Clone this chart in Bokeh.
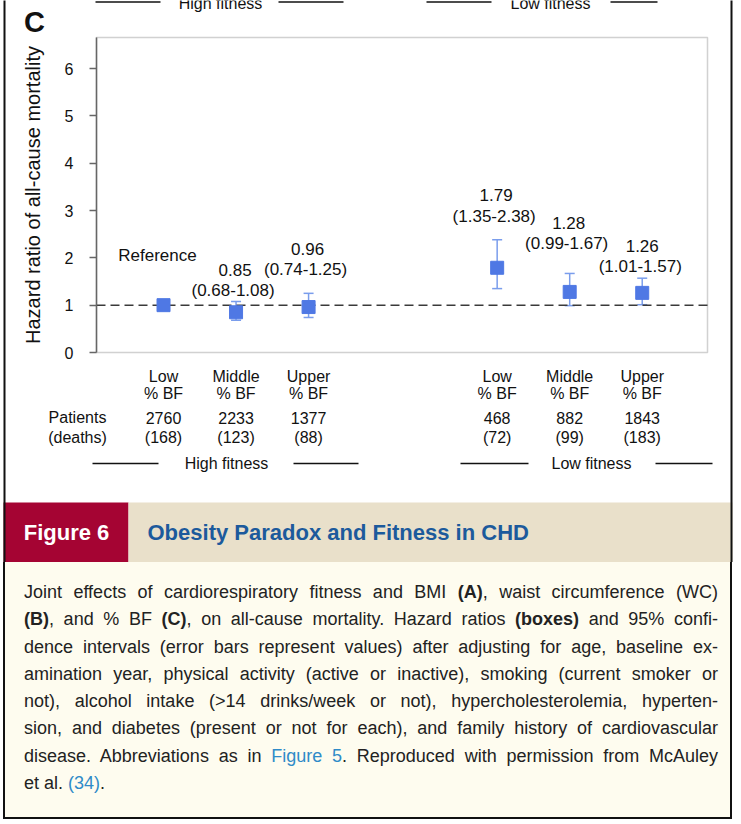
from bokeh.plotting import figure
from bokeh.models import (ColumnDataSource, Whisker, TeeHead, Label, Arrow,
                          BoxAnnotation, FixedTicker, Div)
from bokeh.layouts import column
from bokeh.embed import file_html
from bokeh.resources import INLINE

# ---------------- data ----------------
groups = ["High fitness", "Low fitness"]
bf_levels = ["Low", "Middle", "Upper"]
x_pos = [1.0, 2.0, 3.0, 5.6, 6.6, 7.6]
hazard_ratio = [1.00, 0.85, 0.96, 1.79, 1.28, 1.26]
ci_lower = [None, 0.68, 0.74, 1.35, 0.99, 1.01]
ci_upper = [None, 1.08, 1.25, 2.38, 1.67, 1.57]
patients = [2760, 2233, 1377, 468, 882, 1843]
deaths = [168, 123, 88, 72, 99, 183]
y_ticks = [0, 1, 2, 3, 4, 5, 6]
reference_value = 1.0
y_axis_title = "Hazard ratio of all-cause mortality"
panel_letter = "C"
fig_number = "Figure 6"
fig_title = "Obesity Paradox and Fitness in CHD"

# ---------------- layout (positions / styles) ----------------
W, H = 741, 562
FONT = "Liberation Sans"
TXT = "#111111"
BLUE = "#4F78E4"
BAR = "#7A9DEC"
X0, X1 = 0.076, 8.5          # plot-box x extent (data)
Y0, Y1 = 0.0, 6.655          # plot-box y extent (data)
PL, PR, PT, PB = 96, 707, 37, 352   # plot-box edges in canvas pixels


def fx(px):
    return X0 + (px - PL) * (X1 - X0) / (PR - PL)


def fy(py):
    return Y0 + (PB - py) * (Y1 - Y0) / (PB - PT)


value_label_y = [2.05, 1.75, 2.19, 3.32, 2.73, 2.26]
value_label_dx = [-6, -1, -1, -1, -1, 0]

p = figure(width=W, height=H, x_range=(fx(0), fx(W)), y_range=(fy(H), fy(0)),
           output_backend="svg", toolbar_location=None,
           x_axis_location=None, y_axis_location="left", min_border=0)
p.background_fill_color = "white"
p.border_fill_color = "white"
p.outline_line_color = None
p.xgrid.visible = False
p.ygrid.visible = False

yax = p.yaxis[0]
yax.fixed_location = X0
yax.bounds = (Y0, Y1)
yax.ticker = FixedTicker(ticks=y_ticks)
yax.minor_tick_line_color = None
yax.major_tick_in = 0
yax.major_tick_out = 7
yax.major_tick_line_color = "#666666"
yax.major_tick_line_width = 1.5
yax.axis_line_color = "#666666"
yax.axis_line_width = 1.5
yax.major_label_standoff = 16
yax.major_label_text_font = FONT
yax.major_label_text_font_size = "16px"
yax.major_label_text_color = TXT
yax.axis_label = y_axis_title
yax.axis_label_text_font = FONT
yax.axis_label_text_font_size = "20px"
yax.axis_label_text_font_style = "normal"
yax.axis_label_text_color = TXT
yax.axis_label_standoff = 18

# plot box
p.add_layout(BoxAnnotation(left=X0, right=X1, bottom=Y0, top=Y1, fill_alpha=0,
                           line_color="#666666", line_width=1.5, level="underlay"))

# reference dashed line
p.segment(x0=[X0], x1=[X1], y0=[reference_value], y1=[reference_value],
          line_color="#3a3a3a", line_width=1.5, line_dash="9 5")

# error bars
ci_idx = [i for i in range(len(x_pos)) if ci_lower[i] is not None]
ci_src = ColumnDataSource(dict(x=[x_pos[i] for i in ci_idx],
                               lower=[ci_lower[i] for i in ci_idx],
                               upper=[ci_upper[i] for i in ci_idx]))
p.add_layout(Whisker(source=ci_src, base="x", lower="lower", upper="upper",
                     dimension="height", line_color=BAR, line_width=1.5,
                     upper_head=TeeHead(size=10, line_color=BAR, line_width=1.5),
                     lower_head=TeeHead(size=10, line_color=BAR, line_width=1.5)))

# hazard ratio boxes
pt_src = ColumnDataSource(dict(x=x_pos, y=hazard_ratio))
p.scatter("x", "y", source=pt_src, marker="square", size=13, fill_color=BLUE,
          line_color=BLUE, line_width=1)


def lab(x, y, text, size="17px", align="center", style="normal", color=TXT,
        baseline="middle", xoff=0):
    p.add_layout(Label(x=x, y=y, text=text, text_font=FONT, text_font_size=size,
                       text_align=align, text_baseline=baseline, text_color=color,
                       text_font_style=style, x_offset=xoff))


def rule(a, b, py):
    p.add_layout(Arrow(x_start=fx(a), y_start=fy(py), x_end=fx(b), y_end=fy(py),
                       start=None, end=None, line_color="#111111", line_width=1.4))


# value / CI labels
ci_shift = 20.7 * (Y1 - Y0) / (PB - PT)
for i, xv in enumerate(x_pos):
    if ci_lower[i] is None:
        lab(xv, value_label_y[i], "Reference", xoff=value_label_dx[i])
    else:
        lab(xv, value_label_y[i], f"{hazard_ratio[i]:.2f}", xoff=value_label_dx[i])
        lab(xv, value_label_y[i] - ci_shift,
            f"({ci_lower[i]:.2f}-{ci_upper[i]:.2f})", xoff=value_label_dx[i] - 2)

# table below the plot
for i, xv in enumerate(x_pos):
    lab(xv, fy(376), bf_levels[i % 3], size="16px")
    lab(xv, fy(393), "% BF", size="16px")
    lab(xv, fy(417), str(patients[i]), size="16px")
    lab(xv, fy(437), f"({deaths[i]})", size="16px")
lab(fx(77), fy(417), "Patients", size="16px")
lab(fx(77), fy(437), "(deaths)", size="16px")

# fitness group captions with rules (bottom, and cropped ones at the top)
group_text_x = [226, 591]
group_rules = [[(92, 158), (293, 358)], [(460, 528), (655, 712)]]
top_text_x = [220, 550]
top_rules = [[(95, 160), (278, 343)], [(426, 491), (610, 657)]]
for g, name in enumerate(groups):
    lab(fx(group_text_x[g]), fy(463), name, size="16px")
    for (a, b) in group_rules[g]:
        rule(a, b, 463)
    lab(fx(top_text_x[g]), fy(2.5), name, size="16px", baseline="alphabetic")
    for (a, b) in top_rules[g]:
        rule(a, b, 1.5)

# panel letter
lab(fx(34), fy(21), panel_letter, size="29px", style="bold")

# header bar
p.add_layout(BoxAnnotation(left=fx(3), right=fx(128), top=fy(502), bottom=fy(570),
                           fill_color="#A50433", fill_alpha=1, line_color=None,
                           level="underlay"))
p.add_layout(BoxAnnotation(left=fx(128), right=fx(732), top=fy(502), bottom=fy(570),
                           fill_color="#E9E0CA", fill_alpha=1, line_color=None,
                           level="underlay"))
lab(fx(66), fy(532), fig_number, size="22px", style="bold", color="white")
lab(fx(147), fy(532), fig_title, size="22px", style="bold", color="#1C5A9C",
    align="left")

# outer frame borders
for (a, b) in [(3, 5), (730, 732)]:
    p.add_layout(BoxAnnotation(left=fx(a), right=fx(b), top=fy(-20), bottom=fy(580),
                               fill_color="#111111", fill_alpha=1, line_color=None))

# ---------------- caption ----------------
LINK = "#2F8BC8"
caption_lines = [
    'Joint effects of cardiorespiratory fitness and BMI <b>(A)</b>, waist circumference (WC)',
    '<b>(B)</b>, and % BF <b>(C)</b>, on all-cause mortality. Hazard ratios <b>(boxes)</b> and 95% confi-',
    'dence intervals (error bars represent values) after adjusting for age, baseline ex-',
    'amination year, physical activity (active or inactive), smoking (current smoker or',
    'not), alcohol intake (&gt;14 drinks/week or not), hypercholesterolemia, hyperten-',
    'sion, and diabetes (present or not for each), and family history of cardiovascular',
    f'disease. Abbreviations as in <span style="color:{LINK}">Figure 5</span>. Reproduced with permission from McAuley',
    f'et al. <span style="color:{LINK}">(34)</span>.',
]
rows = []
for k, line in enumerate(caption_lines):
    last = "left" if k == len(caption_lines) - 1 else "justify"
    rows.append(f'<div style="text-align:justify;text-align-last:{last};'
                f'white-space:nowrap;height:27.3px;">{line}</div>')
html = ('<div style="box-sizing:border-box;margin-left:3px;width:729px;height:257px;'
        'background:#FEFCEF;border-left:2px solid #111;border-right:2px solid #111;'
        'border-bottom:2px solid #111;padding:17px 12px 0 19px;'
        f"font-family:'{FONT}';font-size:18px;line-height:27.3px;color:#222;\">"
        + "".join(rows) + '</div>')
cap = Div(text=html, width=W, height=258, margin=(0, 0, 0, 0))

layout = column(p, cap, spacing=0)
open("out.html", "w").write(file_html(layout, INLINE))
